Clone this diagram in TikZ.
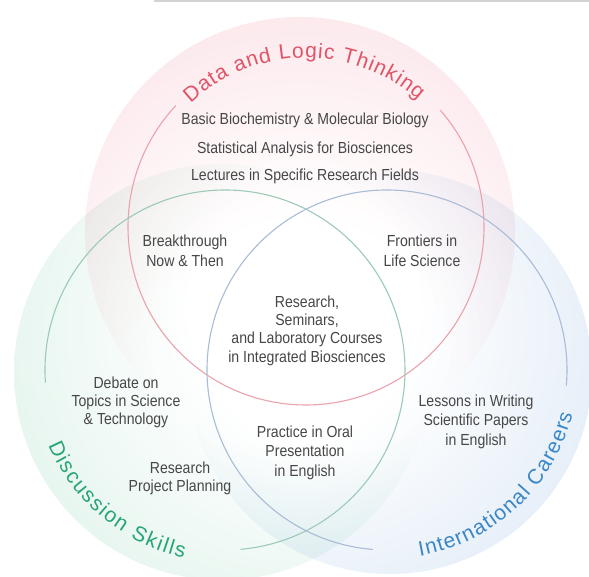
\documentclass[tikz,border=0pt]{standalone}
\usepackage{fontspec}
\usetikzlibrary{decorations.text}
\newfontfamily\bodyfont[FakeStretch=0.88]{Liberation Sans}
\newfontfamily\labelfont{Liberation Sans}
\definecolor{pinkf}{HTML}{FAD8DE}
\definecolor{greenf}{HTML}{D4EEE3}
\definecolor{bluef}{HTML}{D3E2F3}
\colorlet{pinkm}{pinkf!65!white}
\colorlet{greenm}{greenf!65!white}
\colorlet{bluem}{bluef!65!white}
\definecolor{redline}{HTML}{EBA2AC}
\definecolor{greenline}{HTML}{9CCAB8}
\definecolor{blueline}{HTML}{A9BCD8}
\definecolor{labred}{HTML}{E05468}
\definecolor{labgreen}{HTML}{27A576}
\definecolor{labblue}{HTML}{3A86C6}
\definecolor{bodytext}{HTML}{474747}
\definecolor{topgray}{HTML}{D2D2D2}
\pgfdeclareradialshading{pinkshade}{\pgfpoint{0bp}{-24bp}}{color(0bp)=(white); color(17bp)=(white); color(36bp)=(pinkm); color(50bp)=(pinkf)}
\pgfdeclareradialshading{greenshade}{\pgfpoint{21bp}{12bp}}{color(0bp)=(white); color(17bp)=(white); color(36bp)=(greenm); color(50bp)=(greenf)}
\pgfdeclareradialshading{blueshade}{\pgfpoint{-21bp}{12bp}}{color(0bp)=(white); color(17bp)=(white); color(36bp)=(bluem); color(50bp)=(bluef)}
\tikzset{
  body/.style={font=\bodyfont\fontsize{16}{19.5}\selectfont, text=bodytext, align=center, inner sep=0pt},
  ring/.style={line width=1.1pt},
  arclabel/.style={decorate, decoration={text along path, text align={fit to path}}},
}
\begin{document}
\begin{tikzpicture}[x=1pt,y=1pt]
\useasboundingbox (0,0) rectangle (589,577);
\fill[white] (0,0) rectangle (589,577);
% centres
\coordinate (rc) at (306,350);
\coordinate (gc) at (225,207);
\coordinate (bc) at (387,207);
% soft discs
\begin{scope}[blend mode=multiply]
\shade[shading=pinkshade] (300,345) circle[radius=215pt];
\shade[shading=greenshade] (222,205) circle[radius=208pt];
\shade[shading=blueshade] (390,205) circle[radius=202pt];
\end{scope}
% top rule
\coordinate (tl1) at (154,576);
\coordinate (tl2) at (589,576);
\draw[topgray, line width=2pt] (tl1) -- (tl2);
% outline rings
\draw[ring, redline] ([shift={(137:178pt)}]rc) arc[start angle=137, end angle=401, radius=178pt];
\draw[ring, greenline] ([shift={(275:180pt)}]gc) arc[start angle=275, end angle=544, radius=180pt];
\draw[ring, blueline] ([shift={(-5:180pt)}]bc) arc[start angle=-5, end angle=265.5, radius=180pt];
% curved labels
\path[arclabel, decoration={text color=labred, text={|\labelfont\fontsize{21}{25}\selectfont|Data and Logic Thinking}}]
  ([shift={(133:169pt)}]rc) arc[start angle=133, end angle=48.5, radius=169pt];
\path[arclabel, decoration={text color=labgreen, text={|\labelfont\fontsize{21}{25}\selectfont|Discussion Skills}}]
  ([shift={(203:192pt)}]gc) arc[start angle=203, end angle=257.6, radius=192pt];
\path[arclabel, decoration={text color=labblue, text={|\labelfont\fontsize{21}{25}\selectfont|International Careers}}]
  ([shift={(280:189pt)}]bc) arc[start angle=280, end angle=345.8, radius=192pt];
% texts
\node[body, anchor=base] (t1) at (305,452) {Basic Biochemistry \& Molecular Biology};
\node[body, anchor=base] (t2) at (305,423) {Statistical Analysis for Biosciences};
\node[body, anchor=base] (t3) at (305,396) {Lectures in Specific Research Fields};
\node[body] (brk) at (185,326) {Breakthrough\\Now \& Then};
\node[body] (fro) at (422,326) {Frontiers in\\Life Science};
\node[body, font=\bodyfont\fontsize{16}{18.3}\selectfont] (ctr) at (307,246.5) {Research,\\Seminars,\\and Laboratory Courses\\in Integrated Biosciences};
\node[body, font=\bodyfont\fontsize{16}{17.8}\selectfont] (deb) at (126,174.5) {Debate on\\Topics in Science\\\& Technology};
\node[body, font=\bodyfont\fontsize{16}{18.2}\selectfont] (rpp) at (180,99) {Research\\Project Planning};
\node[body] (pra) at (305,124.5) {Practice in Oral\\Presentation\\in English};
\node[body] (les) at (476,155.5) {Lessons in Writing\\Scientific Papers\\in English};
\end{tikzpicture}
\end{document}
